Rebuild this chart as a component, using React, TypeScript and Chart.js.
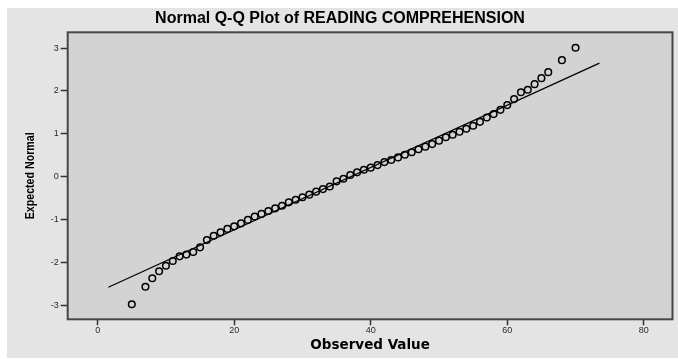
import React, { useEffect, useRef } from "react";
import { Chart, registerables } from "chart.js";

Chart.register(...registerables);

const chartTitle = "Normal Q-Q Plot of READING COMPREHENSION";
const xTitle = "Observed Value";
const yTitle = "Expected Normal";

const observedValues = [
  5, 7, 8, 9, 10, 11, 12, 13, 14, 15, 16, 17, 18, 19, 20, 21, 22, 23, 24, 25,
  26, 27, 28, 29, 30, 31, 32, 33, 34, 35, 36, 37, 38, 39, 40, 41, 42, 43, 44,
  45, 46, 47, 48, 49, 50, 51, 52, 53, 54, 55, 56, 57, 58, 59, 60, 61, 62, 63,
  64, 65, 66, 68, 70,
];
const expectedNormal = [
  -2.98, -2.57, -2.37, -2.21, -2.08, -1.97, -1.86, -1.82, -1.76, -1.65, -1.48,
  -1.38, -1.3, -1.22, -1.16, -1.09, -1.01, -0.93, -0.87, -0.8, -0.74, -0.68,
  -0.6, -0.54, -0.48, -0.42, -0.35, -0.29, -0.23, -0.11, -0.05, 0.04, 0.1,
  0.16, 0.21, 0.27, 0.34, 0.39, 0.45, 0.51, 0.57, 0.64, 0.7, 0.76, 0.84, 0.92,
  0.98, 1.05, 1.12, 1.19, 1.28, 1.38, 1.46, 1.56, 1.67, 1.81, 1.97, 2.03, 2.16,
  2.3, 2.44, 2.72, 3.01,
];
const refLineX = [1.56, 73.5];
const refLineY = [-2.58, 2.65];
const xTicks = [0, 20, 40, 60, 80];
const yTicks = [-3, -2, -1, 0, 1, 2, 3];
const xRange = [-4.39, 84.2];
const yRange = [-3.33, 3.37];

const framePlugin = {
  id: "frame",
  beforeDraw(chart: any) {
    const { ctx, chartArea } = chart;
    const { left, top, width, height } = chartArea;
    ctx.save();
    ctx.fillStyle = "#d3d3d3";
    ctx.fillRect(left, top, width, height);
    ctx.restore();
  },
  afterDraw(chart: any) {
    const { ctx, chartArea } = chart;
    const { left, top, width, height } = chartArea;
    ctx.save();
    ctx.strokeStyle = "#474747";
    ctx.lineWidth = 2;
    ctx.strokeRect(left, top, width, height);
    ctx.restore();

    // narrow, rotated y-axis title
    ctx.save();
    ctx.translate(23, (top + top + height) / 2);
    ctx.rotate(-Math.PI / 2);
    ctx.scale(0.82, 1);
    ctx.font = "bold 13px 'Liberation Sans', Arial, sans-serif";
    ctx.fillStyle = "#000000";
    ctx.textAlign = "center";
    ctx.textBaseline = "middle";
    ctx.fillText(yTitle, 0, 0);
    ctx.restore();
  },
};

export default function App() {
  const canvasRef = useRef<HTMLCanvasElement | null>(null);

  useEffect(() => {
    if (!canvasRef.current) return;
    const chart = new Chart(canvasRef.current, {
      type: "scatter",
      data: {
        datasets: [
          {
            label: "Observed",
            data: observedValues.map((x, i) => ({ x, y: expectedNormal[i] })),
            showLine: false,
            pointStyle: "circle",
            pointRadius: 3.3,
            pointBorderWidth: 1.5,
            pointBackgroundColor: "rgba(0,0,0,0)",
            pointBorderColor: "#000000",
          },
          {
            label: "Reference",
            data: refLineX.map((x, i) => ({ x, y: refLineY[i] })),
            showLine: true,
            pointRadius: 0,
            borderColor: "#000000",
            borderWidth: 1.2,
          },
        ],
      },
      options: {
        responsive: false,
        animation: false,
        devicePixelRatio: 1,
        layout: { padding: { left: 0, right: 5, top: 0, bottom: 0 } },
        plugins: {
          legend: { display: false },
          tooltip: { enabled: false },
          title: {
            display: true,
            text: chartTitle,
            color: "#000000",
            font: { family: "'Liberation Sans', Arial, sans-serif", size: 16, weight: "bold", lineHeight: 1.2 },
            padding: { top: 1, bottom: 4.1 },
          },
        },
        scales: {
          x: {
            type: "linear",
            min: xRange[0],
            max: xRange[1],
            afterFit: (scale: any) => {
              scale.height = 38.7;
            },
            afterBuildTicks: (scale: any) => {
              scale.ticks = xTicks.map((v) => ({ value: v }));
            },
            ticks: {
              includeBounds: false,
              autoSkip: false,
              maxRotation: 0,
              padding: 0,
              color: "#2a2a2a",
              font: { family: "'Liberation Sans', Arial, sans-serif", size: 9 },
            },
            grid: {
              drawOnChartArea: false,
              drawTicks: true,
              tickLength: 6,
              tickColor: "#333333",
              tickWidth: 1.5,
            },
            border: { display: false },
            title: {
              display: true,
              text: xTitle,
              color: "#000000",
              font: { family: "'DejaVu Sans', Verdana, sans-serif", size: 13.5, weight: "bold", lineHeight: 1.2 },
              padding: { top: 0, bottom: 4 },
            },
          },
          y: {
            type: "linear",
            min: yRange[0],
            max: yRange[1],
            afterFit: (scale: any) => {
              scale.width = 60.7;
            },
            afterBuildTicks: (scale: any) => {
              scale.ticks = yTicks.map((v) => ({ value: v }));
            },
            ticks: {
              includeBounds: false,
              autoSkip: false,
              padding: 2,
              color: "#2a2a2a",
              font: { family: "'Liberation Sans', Arial, sans-serif", size: 9 },
            },
            grid: {
              drawOnChartArea: false,
              drawTicks: true,
              tickLength: 7,
              tickColor: "#333333",
              tickWidth: 1.5,
            },
            border: { display: false },
            title: { display: false },
          },
        },
      },
      plugins: [framePlugin],
    });
    return () => chart.destroy();
  }, []);

  return (
    <div
      style={{
        position: "absolute",
        left: 7,
        top: 8,
        width: 671,
        height: 350,
        background: "#e4e4e4",
      }}
    >
      <canvas ref={canvasRef} width={671} height={350} style={{ display: "block" }} />
    </div>
  );
}
